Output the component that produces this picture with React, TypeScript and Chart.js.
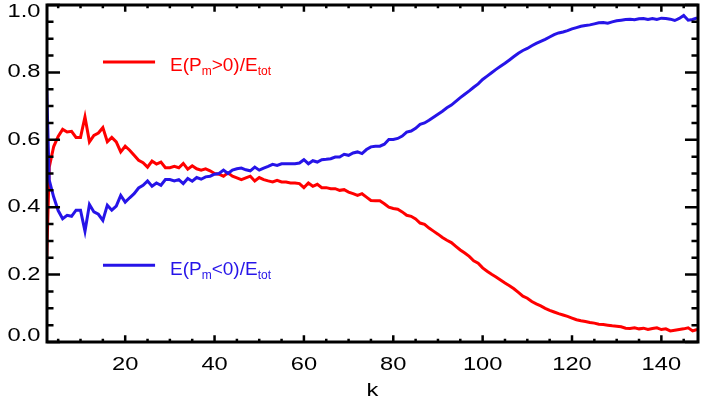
import React, { useEffect, useRef } from 'react';
import { Chart, registerables } from 'chart.js';

Chart.register(...registerables);

// k grid starts at K_START, one value per integer k
const K_START = 2;

// E(Pm>0)/Etot, k = 2..148
const RED_VALUES = [
  0.04, 0.519, 0.58, 0.61, 0.631, 0.623, 0.625, 0.607, 0.607, 0.668,
  0.594, 0.613, 0.620, 0.636, 0.594, 0.607, 0.594, 0.564, 0.581, 0.569,
  0.554, 0.539, 0.532, 0.519, 0.537, 0.528, 0.534, 0.517, 0.517, 0.521,
  0.517, 0.530, 0.513, 0.523, 0.514, 0.510, 0.514, 0.508, 0.500, 0.498,
  0.492, 0.502, 0.492, 0.487, 0.482, 0.487, 0.492, 0.478, 0.488, 0.482,
  0.478, 0.475, 0.480, 0.475, 0.475, 0.472, 0.472, 0.470, 0.458, 0.472,
  0.462, 0.468, 0.458, 0.458, 0.455, 0.455, 0.450, 0.452, 0.445, 0.440,
  0.435, 0.440, 0.430, 0.420, 0.419, 0.419, 0.410, 0.400, 0.396, 0.394,
  0.386, 0.376, 0.373, 0.365, 0.353, 0.349, 0.338, 0.329, 0.320, 0.310,
  0.302, 0.295, 0.284, 0.273, 0.264, 0.254, 0.241, 0.234, 0.220, 0.210,
  0.201, 0.193, 0.184, 0.175, 0.167, 0.158, 0.147, 0.136, 0.130, 0.120,
  0.113, 0.107, 0.100, 0.094, 0.089, 0.084, 0.080, 0.076, 0.071, 0.066,
  0.063, 0.061, 0.058, 0.056, 0.053, 0.052, 0.050, 0.048, 0.047, 0.045,
  0.041, 0.040, 0.042, 0.039, 0.041, 0.037, 0.040, 0.042, 0.037, 0.039,
  0.033, 0.035, 0.037, 0.039, 0.042, 0.033, 0.037,
];

// E(Pm<0)/Etot, k = 2..148
const BLUE_VALUES = [
  0.96, 0.48, 0.43, 0.39, 0.366, 0.376, 0.373, 0.391, 0.391, 0.329,
  0.408, 0.386, 0.379, 0.361, 0.406, 0.391, 0.403, 0.435, 0.415, 0.428,
  0.440, 0.457, 0.465, 0.478, 0.462, 0.472, 0.465, 0.482, 0.482, 0.478,
  0.482, 0.470, 0.485, 0.477, 0.488, 0.483, 0.490, 0.492, 0.498, 0.500,
  0.510, 0.500, 0.510, 0.514, 0.516, 0.511, 0.508, 0.519, 0.510, 0.516,
  0.521, 0.527, 0.524, 0.529, 0.529, 0.529, 0.529, 0.531, 0.541, 0.529,
  0.538, 0.534, 0.541, 0.542, 0.544, 0.549, 0.549, 0.557, 0.554, 0.561,
  0.564, 0.559, 0.571, 0.579, 0.581, 0.581, 0.587, 0.601, 0.601, 0.604,
  0.611, 0.623, 0.626, 0.634, 0.646, 0.650, 0.658, 0.667, 0.676, 0.685,
  0.695, 0.703, 0.714, 0.725, 0.735, 0.745, 0.756, 0.766, 0.779, 0.789,
  0.799, 0.809, 0.818, 0.827, 0.837, 0.847, 0.857, 0.865, 0.871, 0.879,
  0.886, 0.892, 0.898, 0.905, 0.912, 0.917, 0.920, 0.924, 0.929, 0.933,
  0.937, 0.939, 0.941, 0.944, 0.947, 0.948, 0.946, 0.950, 0.953, 0.955,
  0.957, 0.958, 0.956, 0.959, 0.960, 0.957, 0.960, 0.957, 0.961, 0.960,
  0.958, 0.954, 0.960, 0.969, 0.955, 0.957, 0.962,
];

const X_TICKS = [20, 40, 60, 80, 100, 120, 140];
const Y_TICKS = [0, 0.2, 0.4, 0.6, 0.8, 1.0];
const X_MINOR_STEP = 5;
const Y_MINOR_STEP = 0.05;
const X_MIN = 2.5;
const X_MAX = 148.2;
const Y_MIN = 0;
const Y_MAX = 1;
const X_TITLE = 'k';

const RED = '#ff0000';
const BLUE = '#2614e8';
const FONT = '"Liberation Sans", Arial, Helvetica, sans-serif';
const AXIS_FONT = `18.5px ${FONT}`;
const AXIS_STRETCH = 1.28;

const LEGEND_ITEMS = [
  { color: RED, parts: [['E(P', 0], ['m', 1], ['>0)/E', 0], ['tot', 1]], yFrac: 0.169 },
  { color: BLUE, parts: [['E(P', 0], ['m', 1], ['<0)/E', 0], ['tot', 1]], yFrac: 0.772 },
];

function wideText(ctx: CanvasRenderingContext2D, txt: string, x: number, y: number, align: CanvasTextAlign) {
  ctx.save();
  ctx.translate(x, y);
  ctx.scale(AXIS_STRETCH, 1);
  ctx.font = AXIS_FONT;
  ctx.fillStyle = '#000';
  ctx.textAlign = align;
  ctx.textBaseline = 'middle';
  ctx.fillText(txt, 0, 0);
  ctx.restore();
}

const idlPlugin = {
  id: 'idlAxes',
  afterDatasetsDraw(chart: any) {
    const { ctx, chartArea: a, scales } = chart;
    const xs = scales.x;
    const ys = scales.y;
    const w = a.right - a.left;
    const h = a.bottom - a.top;
    const xLen = h * 0.02;
    const yLen = w * 0.02;
    ctx.save();
    ctx.strokeStyle = '#000';
    ctx.lineWidth = 2.5;
    ctx.beginPath();
    const x0 = Math.ceil(X_MIN / X_MINOR_STEP) * X_MINOR_STEP;
    for (let v = x0; v <= X_MAX + 1e-9; v += X_MINOR_STEP) {
      const major = X_TICKS.includes(v);
      const px = xs.getPixelForValue(v);
      const len = major ? xLen : xLen / 2;
      ctx.moveTo(px, a.bottom);
      ctx.lineTo(px, a.bottom - len);
      ctx.moveTo(px, a.top);
      ctx.lineTo(px, a.top + len);
    }
    const n = Math.round((Y_MAX - Y_MIN) / Y_MINOR_STEP);
    for (let i = 0; i <= n; i++) {
      const v = Y_MIN + i * Y_MINOR_STEP;
      const major = Y_TICKS.some((t) => Math.abs(t - v) < 1e-6);
      const py = ys.getPixelForValue(v);
      const len = major ? yLen : yLen / 2;
      ctx.moveTo(a.left, py);
      ctx.lineTo(a.left + len, py);
      ctx.moveTo(a.right, py);
      ctx.lineTo(a.right - len, py);
    }
    ctx.stroke();
    ctx.lineWidth = 3;
    ctx.strokeRect(a.left, a.top, w, h);

    // axis tick labels (wide lettering, end labels kept inside the frame)
    for (const v of Y_TICKS) {
      const py = ys.getPixelForValue(v);
      const cy = Math.min(Math.max(py, a.top + 7), a.bottom - 6);
      wideText(ctx, v.toFixed(1), a.left - 6.5, cy, 'right');
    }
    for (const v of X_TICKS) {
      wideText(ctx, String(v), xs.getPixelForValue(v), a.bottom + 23, 'center');
    }
    wideText(ctx, X_TITLE, (a.left + a.right) / 2, a.bottom + 49, 'center');

    // legend
    const lx0 = a.left + w * 0.086;
    const lx1 = a.left + w * 0.166;
    const tx = a.left + w * 0.189;
    for (const item of LEGEND_ITEMS) {
      const ly = a.top + h * item.yFrac;
      ctx.strokeStyle = item.color;
      ctx.lineWidth = 3;
      ctx.beginPath();
      ctx.moveTo(lx0, ly);
      ctx.lineTo(lx1, ly);
      ctx.stroke();
      ctx.fillStyle = item.color;
      ctx.textBaseline = 'alphabetic';
      ctx.textAlign = 'left';
      let x = tx;
      const base = ly + 9.5;
      for (const [txt, sub] of item.parts as any) {
        ctx.font = sub ? `12px ${FONT}` : `19px ${FONT}`;
        ctx.fillText(txt, x, sub ? base + 4 : base);
        x += ctx.measureText(txt).width;
      }
    }
    ctx.restore();
  },
};

export default function App() {
  const ref = useRef<HTMLCanvasElement | null>(null);
  useEffect(() => {
    if (!ref.current) return;
    const toPts = (arr: number[]) => arr.map((v, i) => ({ x: K_START + i, y: v }));
    const chart = new Chart(ref.current, {
      type: 'line',
      data: {
        datasets: [
          {
            label: 'E(Pm>0)/Etot',
            data: toPts(RED_VALUES),
            borderColor: RED,
            borderWidth: 3,
            pointRadius: 0,
            tension: 0,
            clip: 0,
            order: 2,
          },
          {
            label: 'E(Pm<0)/Etot',
            data: toPts(BLUE_VALUES),
            borderColor: BLUE,
            borderWidth: 3,
            pointRadius: 0,
            tension: 0,
            clip: 0,
            order: 1,
          },
        ],
      },
      options: {
        responsive: false,
        animation: false,
        devicePixelRatio: 1,
        layout: { padding: { top: 5, right: 3, left: 0, bottom: 0 } },
        plugins: { legend: { display: false }, tooltip: { enabled: false }, title: { display: false } },
        scales: {
          x: {
            type: 'linear',
            min: X_MIN,
            max: X_MAX,
            grid: { display: false, drawTicks: false },
            border: { display: false },
            afterBuildTicks: (s: any) => {
              s.ticks = X_TICKS.map((v) => ({ value: v }));
            },
            afterFit: (s: any) => {
              s.height = 64;
              s.paddingLeft = 0;
              s.paddingRight = 0;
            },
            ticks: { display: false },
            title: { display: false, text: X_TITLE },
          },
          y: {
            type: 'linear',
            min: Y_MIN,
            max: Y_MAX,
            grid: { display: false, drawTicks: false },
            border: { display: false },
            afterBuildTicks: (s: any) => {
              s.ticks = Y_TICKS.map((v) => ({ value: v }));
            },
            afterFit: (s: any) => {
              s.width = 47;
              s.paddingTop = 0;
              s.paddingBottom = 0;
            },
            ticks: { display: false },
          },
        },
      },
      plugins: [idlPlugin],
    } as any);
    return () => chart.destroy();
  }, []);
  return (
    <div style={{ position: 'fixed', left: 0, top: 0, width: 701, height: 406, background: '#fff' }}>
      <canvas ref={ref} width={701} height={406} style={{ display: 'block' }} />
    </div>
  );
}
